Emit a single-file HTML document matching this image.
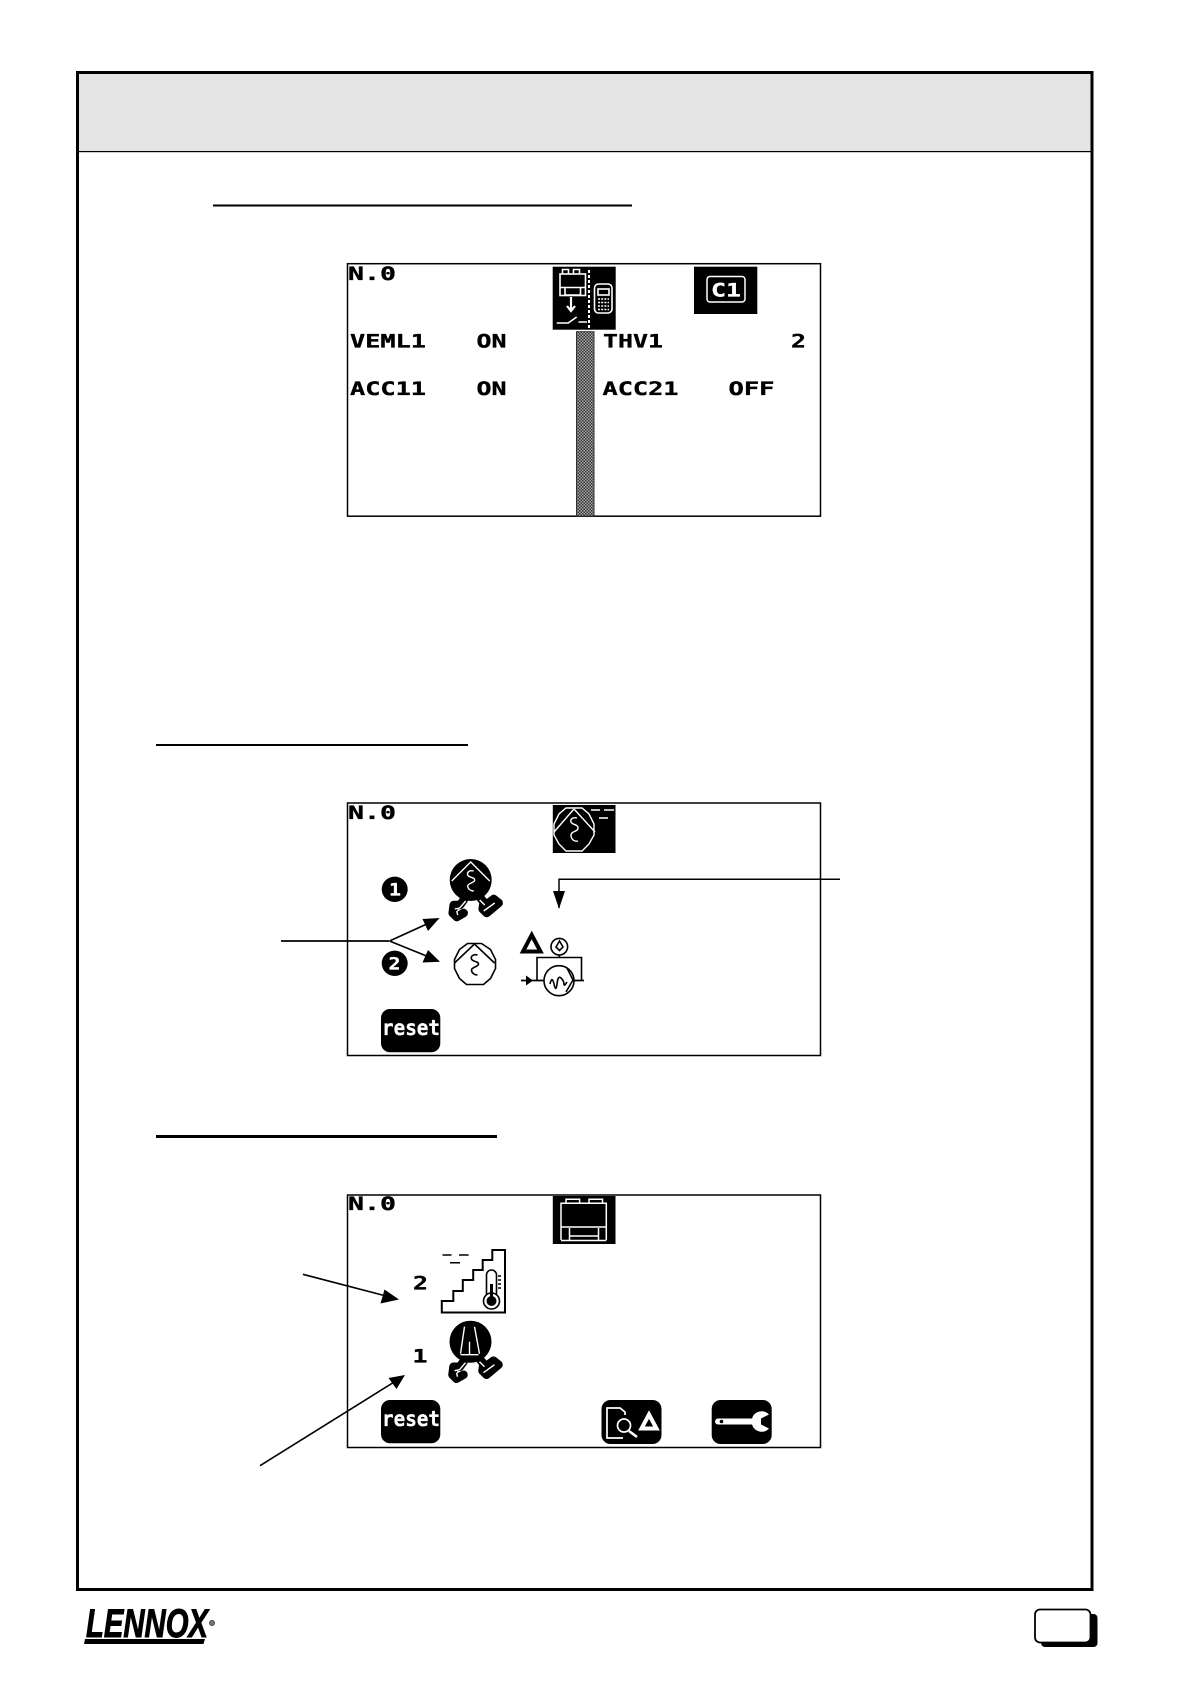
<!DOCTYPE html>
<html><head><meta charset="utf-8"><style>
html,body{margin:0;padding:0;background:#fff}
svg{display:block}
.t{font-family:"DejaVu Sans Mono","Liberation Mono",monospace;font-weight:bold;font-size:19px;fill:#000;stroke:#000;stroke-width:.35px}
.w{fill:#fff;stroke:#fff;stroke-width:.3px}
</style></head><body>
<svg width="1190" height="1684" viewBox="0 0 1190 1684" xmlns="http://www.w3.org/2000/svg">
<defs>
<pattern id="ck" width="3" height="3" patternUnits="userSpaceOnUse"><rect width="3" height="3" fill="#a8a8a8"/><rect width="1.5" height="1.5" fill="#333"/><rect x="1.5" y="1.5" width="1.5" height="1.5" fill="#333"/></pattern>
</defs>
<rect width="1190" height="1684" fill="#fff"/>
<!-- frame -->
<rect x="77.5" y="72.5" width="1014.5" height="1517" fill="#fff" stroke="#000" stroke-width="3"/>
<rect x="79" y="74" width="1011.5" height="77" fill="#e4e4e4"/>
<rect x="79" y="151" width="1011.5" height="1.2" fill="#000"/>
<!-- underlines -->
<rect x="213" y="204.5" width="419" height="2" fill="#000"/>
<rect x="156" y="744" width="312" height="2" fill="#000"/>
<rect x="156" y="1135" width="341" height="3" fill="#000"/>

<!-- SCREEN 1 -->
<rect x="347.5" y="263.7" width="473" height="252.5" fill="#fff" stroke="#000" stroke-width="1.5"/>
<text class="t" x="348" y="280" textLength="48" lengthAdjust="spacingAndGlyphs">N.0</text>
<rect x="552.7" y="266.7" width="63" height="63" fill="#000"/>
<g fill="none" stroke="#fff" stroke-width="1.6">
<rect x="560" y="274" width="25.5" height="21.5"/><path d="M562.5 274v-4.5h6v4.5M573.5 274v-4.5h6v4.5"/>
<path d="M560 287.5h25.5M565 288v7h15.5v-7"/>
<path d="M571 297v14M567 306l4 5 4-5" stroke-width="2.2"/>
<path d="M556.7 323h11.5l8.5-6M578.5 322h8.5"/>
<path d="M589 270v59" stroke-dasharray="3 2" stroke-width="2"/>
<rect x="594.5" y="284" width="17.5" height="29" rx="4"/><rect x="598" y="289" width="11" height="6"/>
<path d="M598 299h11M598 302.5h11M598 306h11M598 309.5h11" stroke-dasharray="2 1.2" stroke-width="1.6"/>
</g>
<rect x="694" y="266.7" width="63.3" height="47.3" fill="#000"/>
<rect x="707" y="276.5" width="38" height="25.5" rx="3" fill="none" stroke="#fff" stroke-width="1.5"/>
<text class="t w" x="711" y="296.5" textLength="30" lengthAdjust="spacingAndGlyphs">C1</text>
<rect x="576.5" y="331.7" width="17.5" height="184.3" fill="url(#ck)" stroke="#333" stroke-width="1"/>
<text class="t" x="350" y="347.7" textLength="76" lengthAdjust="spacingAndGlyphs">VEML1</text>
<text class="t" x="476.5" y="347.7" textLength="30" lengthAdjust="spacingAndGlyphs">ON</text>
<text class="t" x="603" y="347.7" textLength="60" lengthAdjust="spacingAndGlyphs">THV1</text>
<text class="t" x="791" y="347.7" textLength="15" lengthAdjust="spacingAndGlyphs">2</text>
<text class="t" x="350" y="395" textLength="76" lengthAdjust="spacingAndGlyphs">ACC11</text>
<text class="t" x="476.5" y="395" textLength="30" lengthAdjust="spacingAndGlyphs">ON</text>
<text class="t" x="602.5" y="395" textLength="76" lengthAdjust="spacingAndGlyphs">ACC21</text>
<text class="t" x="728.5" y="395" textLength="46" lengthAdjust="spacingAndGlyphs">OFF</text>

<!-- SCREEN 2 -->
<rect x="347.5" y="803" width="473" height="252.5" fill="#fff" stroke="#000" stroke-width="1.5"/>
<text class="t" x="348" y="819" textLength="48" lengthAdjust="spacingAndGlyphs">N.0</text>
<rect x="552.8" y="805" width="62.7" height="48" fill="#000"/>
<g fill="none" stroke="#fff" stroke-width="1.4">
<path d="M566 808h16l7 6 5 10v11l-5 9-7 7h-16l-7-7-5-9v-11l5-10z"/>
<path d="M574 809l21 23M574 809l-20 23"/>
<path d="M577 818c-4-1-7 1-6 4s7 2 7 6-7 3-7 7 3 7 7 6"/>
<path d="M591 810h9M604 810h10M599 818h9" stroke-width="1.6"/>
</g>
<ellipse cx="394.7" cy="889.3" rx="13" ry="12.7" fill="#000"/>
<text class="t w" x="389" y="895.5" textLength="12" lengthAdjust="spacingAndGlyphs" style="font-size:17px">1</text>
<ellipse cx="394.7" cy="963.3" rx="13" ry="12.7" fill="#000"/>
<text class="t w" x="388.5" y="969.5" textLength="12" lengthAdjust="spacingAndGlyphs" style="font-size:17px">2</text>
<!-- motor black -->
<g transform="translate(470.7,880)">
<path d="M-7 20L-10.7 25L-17 25L-18 33L-14 37L-7 33" fill="none" stroke="#000" stroke-width="8.5" stroke-linejoin="round" stroke-linecap="round"/>
<path d="M9 17L13 22L12 29L16 33L28 23L23 19L15 25" fill="none" stroke="#000" stroke-width="8.5" stroke-linejoin="round" stroke-linecap="round"/>
<ellipse rx="21" ry="21" fill="#000"/>
<g fill="none" stroke="#fff" stroke-width="1.4">
<path d="M-19 1L0 -18L19 1"/><path d="M3 -9c-4-1-7 1-6 4s7 2 7 5-7 3-7 6 3 5 6 5"/>
<path d="M-5 21l-6 7-5 1M-14 31l1 4M9 20l5 5M13 31l11-8" stroke-width="1.4"/>
</g>
</g>
<!-- motor white -->
<g transform="translate(474.5,964)" fill="none" stroke="#000" stroke-width="1.6">
<path d="M-7 -20.5h14l9 6 5 10v9l-5 10-7 6h-17l-7-6-5-10v-9l5-10z"/>
<path d="M-20 -1L0 -20L20 -1"/><path d="M3 -9c-4-1-7 1-6 4s7 2 7 5-7 3-7 6 3 5 6 5"/>
</g>
<!-- valve -->
<path d="M531.7 935L540.5 951.5H523z" fill="#fff" stroke="#000" stroke-width="4"/>
<g fill="none" stroke="#000" stroke-width="1.6">
<circle cx="559.3" cy="946.7" r="8.3"/><path d="M559.5 941l-3.5 6 3.5 3.5 3.5-3.5zM559.3 955v3"/>
<path d="M537 980v-22.5h44.5V980"/>
<path d="M521 980.5h63" stroke-width="1.8"/>
<circle cx="559" cy="980.7" r="15" fill="#fff"/>
<path d="M550 984q2-9 4 0t3 0 4-6 3 6 3-2M567 968l6 12-7 12"/>
</g>
<path d="M526 975.5l7 5-7 5z" fill="#000"/>
<!-- reset 2 -->
<rect x="381" y="1009" width="59.3" height="43.3" rx="9" fill="#000"/>
<text class="t w" x="382" y="1035" textLength="58" lengthAdjust="spacingAndGlyphs" style="font-size:21px">reset</text>
<!-- arrows 2 -->
<g fill="none" stroke="#000">
<path d="M281 941H389" stroke-width="1.7"/>
<path d="M389.5 941L428 923.5M389.5 941L429 957" stroke-width="1.7"/>
<path d="M559 908V879.3H840" stroke-width="1.5"/>
</g>
<path d="M439.5 918L422.5 919L428 931z M440 961.7L428 950L422.5 962.5z M559 908.7L553 891H565z" fill="#000"/>

<!-- SCREEN 3 -->
<rect x="347.5" y="1195" width="473" height="252.5" fill="#fff" stroke="#000" stroke-width="1.5"/>
<text class="t" x="348" y="1210" textLength="48" lengthAdjust="spacingAndGlyphs">N.0</text>
<rect x="552.8" y="1196" width="62.7" height="48" fill="#000"/>
<g fill="none" stroke="#fff" stroke-width="1.5">
<path d="M561 1240v-36.7h45.3V1240M566 1203v-3.7h13.6v3.7M589 1203v-3.7h13.5v3.7"/>
<path d="M561 1227h45.3M569.5 1240v-12M598.5 1240v-12M569.5 1236h29M561 1240.5h45.3"/>
</g>
<!-- stairs -->
<path d="M441.8 1312.5V1301H453.3V1291H462.8V1280H473.2V1270H482.7V1260H492.3V1250H505V1312.5Z" fill="#fff" stroke="#000" stroke-width="2"/>
<path d="M442.5 1255h9M459 1255h9.6M450 1262.7h10" stroke="#000" stroke-width="1.5"/>
<rect x="486.5" y="1270" width="10" height="30" rx="5" fill="#fff" stroke="#000" stroke-width="1.6"/>
<circle cx="491.5" cy="1301" r="8" fill="#fff" stroke="#000" stroke-width="1.6"/>
<circle cx="491.5" cy="1301" r="5" fill="#000"/><rect x="490" y="1284" width="3" height="14" fill="#000"/>
<path d="M498 1276h3M498 1280h3M498 1284h3M498 1288h3" stroke="#000" stroke-width="1.4"/>
<text class="t" x="413" y="1289.7" textLength="15" lengthAdjust="spacingAndGlyphs">2</text>
<text class="t" x="412.5" y="1362.7" textLength="15" lengthAdjust="spacingAndGlyphs">1</text>
<g transform="translate(470.5,1341.7)">
<path d="M-7 20L-10.7 25L-17 25L-18 33L-14 37L-7 33" fill="none" stroke="#000" stroke-width="8.5" stroke-linejoin="round" stroke-linecap="round"/>
<path d="M9 17L13 22L12 29L16 33L28 23L23 19L15 25" fill="none" stroke="#000" stroke-width="8.5" stroke-linejoin="round" stroke-linecap="round"/>
<ellipse rx="21" ry="21" fill="#000"/>
<g fill="none" stroke="#fff" stroke-width="1.4">
<path d="M-6 -15L-10 12M4 -15L9 12M-10 13H8M-1 0V13"/>
<path d="M-5 21l-6 7-5 1M-14 31l1 4M9 20l5 5M13 31l11-8"/>
</g>
</g>
<rect x="381" y="1400" width="59.3" height="43.3" rx="9" fill="#000"/>
<text class="t w" x="382" y="1426" textLength="58" lengthAdjust="spacingAndGlyphs" style="font-size:21px">reset</text>
<!-- doc button -->
<rect x="601.5" y="1400" width="60" height="44" rx="9" fill="#000"/>
<g fill="none" stroke="#fff" stroke-width="1.7">
<path d="M625 1415v-3l-5-4h-13v30h16"/>
<circle cx="624" cy="1425.5" r="6.5"/>
<path d="M629 1431l8 6" stroke-width="2.6"/>
<path d="M649 1414.5l7.5 14h-15z" stroke-width="4"/>
</g>
<!-- wrench button -->
<rect x="711.7" y="1400" width="60" height="44" rx="9" fill="#000"/>
<path d="M718 1418.5h34a10 10 0 0 1 17-4l-8 4v6l8 4a10 10 0 0 1-17-4h-34a3 3 0 0 1 0-6z" fill="#fff"/>
<circle cx="721.5" cy="1421.5" r="1.8" fill="#000"/>
<!-- arrows 3 -->
<path d="M302.9 1274.3L386 1296M260 1465.7L395 1381.5" fill="none" stroke="#000" stroke-width="1.6"/>
<path d="M399 1299.5L380.5 1303.5L384.5 1289.5z M405 1375L388.5 1378L396.5 1389z" fill="#000"/>

<!-- footer -->
<text x="86" y="1637" textLength="122" lengthAdjust="spacingAndGlyphs" stroke="#000" stroke-width="1" style="font-family:'Liberation Sans',sans-serif;font-weight:bold;font-style:italic;font-size:40px;fill:#000">LENNOX</text>
<circle cx="212" cy="1623" r="2.5" fill="#777" stroke="#444" stroke-width="1"/>
<path d="M85 1639H205L203.5 1644H84z" fill="#000"/>
<rect x="1041" y="1614" width="56.5" height="33" rx="4" fill="#000"/>
<rect x="1035" y="1609.5" width="55.5" height="33" rx="5" fill="#fff" stroke="#000" stroke-width="1.8"/>
</svg>
</body></html>
